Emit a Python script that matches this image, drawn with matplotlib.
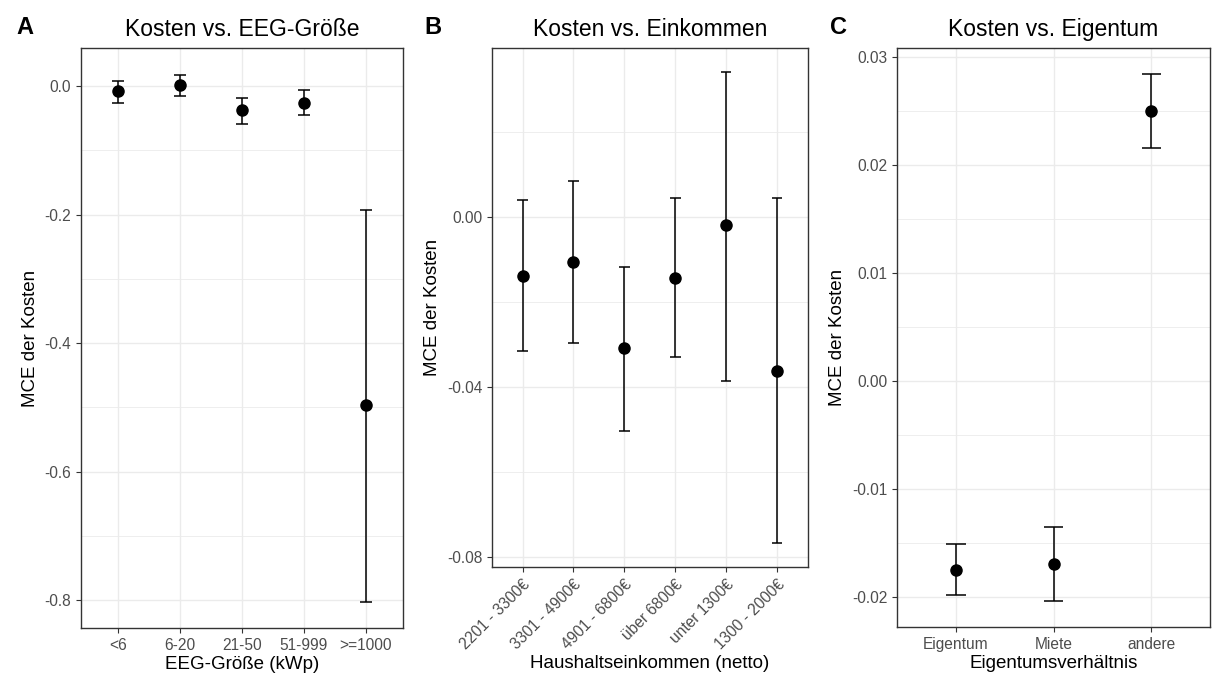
import matplotlib.pyplot as plt
from matplotlib.ticker import MultipleLocator

plt.rcParams["font.family"] = ["Liberation Sans", "DejaVu Sans"]

# Panel A: EEG-Größe
eeg_cats = ["<6", "6-20", "21-50", "51-999", ">=1000"]
eeg_mce = [-0.008, 0.0013, -0.038, -0.026, -0.496]
eeg_lo = [-0.026, -0.016, -0.060, -0.046, -0.802]
eeg_hi = [0.0074, 0.0174, -0.019, -0.0067, -0.193]

# Panel B: Einkommen
ink_cats = ["2201 - 3300€", "3301 - 4900€", "4901 - 6800€", "über 6800€", "unter 1300€", "1300 - 2000€"]
ink_mce = [-0.0138, -0.0105, -0.0309, -0.0144, -0.0020, -0.0363]
ink_lo = [-0.0315, -0.0297, -0.0504, -0.0330, -0.0387, -0.0768]
ink_hi = [0.0039, 0.0084, -0.0117, 0.0045, 0.0342, 0.0045]

# Panel C: Eigentum
eig_cats = ["Eigentum", "Miete", "andere"]
eig_mce = [-0.01745, -0.0169, 0.0250]
eig_lo = [-0.0198, -0.0203, 0.0216]
eig_hi = [-0.0151, -0.0135, 0.0284]

GRID = "#EBEBEB"
DARK = "#333333"
TICKTXT = "#4D4D4D"


def draw_panel(ax, cats, mce, lo, hi, title, xlabel, major, rotate=False):
    x = list(range(1, len(cats) + 1))
    yerr = [[m - l for m, l in zip(mce, lo)], [h - m for m, h in zip(mce, hi)]]
    ax.errorbar(x, mce, yerr=yerr, fmt="none", ecolor="black", elinewidth=1.1, zorder=3)
    ax.hlines(lo, [i - 0.1 for i in x], [i + 0.1 for i in x], color="black", lw=1.1, zorder=3)
    ax.hlines(hi, [i - 0.1 for i in x], [i + 0.1 for i in x], color="black", lw=1.1, zorder=3)
    ax.plot(x, mce, "o", color="black", ms=8, zorder=4)

    ax.set_xlim(0.4, len(cats) + 0.6)
    span = max(hi) - min(lo)
    ax.set_ylim(min(lo) - 0.05 * span, max(hi) + 0.05 * span)
    ax.set_xticks(x)
    ax.yaxis.set_major_locator(MultipleLocator(major))
    ax.yaxis.set_minor_locator(MultipleLocator(major / 2))
    ax.grid(which="major", color=GRID, lw=1.0, zorder=0)
    ax.grid(which="minor", axis="y", color=GRID, lw=0.6, zorder=0)
    ax.set_axisbelow(True)
    ax.tick_params(which="minor", length=0)
    ax.tick_params(which="major", length=3.5, color=DARK, labelcolor=TICKTXT, labelsize=11.2)
    for s in ax.spines.values():
        s.set_color(DARK)
        s.set_linewidth(1.0)

    if rotate:
        ax.set_xticklabels(cats, rotation=45, ha="right", rotation_mode="anchor")
    else:
        ax.set_xticklabels(cats)
    dec = {0.2: 1, 0.04: 2, 0.01: 2}[major]
    ax.yaxis.set_major_formatter(plt.FuncFormatter(lambda v, p: f"{v:.{dec}f}"))

    ax.set_title(title, fontsize=16.5, pad=9)
    ax.set_xlabel(xlabel, fontsize=13.5, labelpad=2)
    ax.set_ylabel("MCE der Kosten", fontsize=13.5)


fig = plt.figure(figsize=(12.18, 6.78), dpi=100)
ax_a = fig.add_axes([0.0665, 0.0737, 0.2644, 0.855])
ax_b = fig.add_axes([0.4039, 0.1637, 0.2594, 0.7655])
ax_c = fig.add_axes([0.7365, 0.0752, 0.2570, 0.854])

draw_panel(ax_a, eeg_cats, eeg_mce, eeg_lo, eeg_hi, "Kosten vs. EEG-Größe", "EEG-Größe (kWp)", 0.2)
draw_panel(ax_b, ink_cats, ink_mce, ink_lo, ink_hi, "Kosten vs. Einkommen", "Haushaltseinkommen (netto)", 0.04, rotate=True)
draw_panel(ax_c, eig_cats, eig_mce, eig_lo, eig_hi, "Kosten vs. Eigentum", "Eigentumsverhältnis", 0.01)

for letter, px in [("A", 16), ("B", 424), ("C", 830)]:
    fig.text(px / 1218, 1 - 28 / 678, letter, fontsize=17, fontweight="bold", va="center", ha="left")

fig.savefig("out.png", dpi=100)
